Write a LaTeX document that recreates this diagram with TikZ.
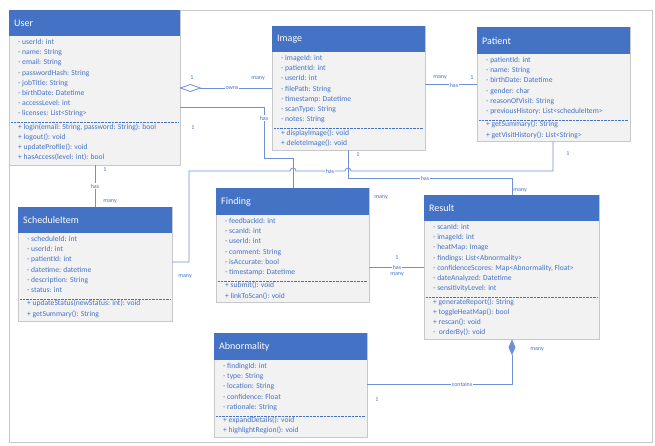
\documentclass[tikz,border=0pt]{standalone}
\usepackage{fontspec}
\setmainfont{Carlito}
\usetikzlibrary{positioning}
\definecolor{hdrblue}{HTML}{4472C4}
\definecolor{bodygray}{HTML}{F2F2F2}
\definecolor{edgegray}{HTML}{C8C8C8}
\definecolor{linkblue}{HTML}{6F8FD6}
\def\mylinesep{10.2pt}
\tikzset{
x=1pt, y=-1pt,
box/.style={draw=edgegray,fill=bodygray,rectangle,inner sep=0pt,anchor=north west},
hdr/.style={fill=hdrblue,rectangle,inner sep=0pt,anchor=north west},
title/.style={text=white,font=\fontsize{10}{12}\selectfont,anchor=west,inner sep=0pt},
members/.style={text=hdrblue,font=\fontsize{7.6}{\mylinesep}\selectfont,align=left,anchor=north west,inner sep=0pt},
sep/.style={draw=hdrblue,densely dotted,thin},
link/.style={draw=linkblue,thick},
lbl/.style={text=hdrblue,font=\fontsize{6}{7}\selectfont,inner sep=0.5pt},
onln/.style={lbl,fill=white},
}
% id, x, y, width, height, header height, title, attributes, number of attributes, operations
\newcommand\umlclass[9]{%
  \node[box,minimum width=#4,minimum height=#5] (#1) at (#2,#3) {};
  \node[hdr,minimum width=#4,minimum height=#6] (#1-h) at (#2,#3) {};
  \node[title] at ([xshift=5pt]#1-h.west) {#7};
  \node[members] (#1-a) at (#2+9,#3+#6+3) {#8};
  \draw[sep] (#2+2,#3+#6+5+#9*10.2) -- (#2+#4-2,#3+#6+5+#9*10.2);
  \node[members] (#1-o) at (#2+9,#3+#6+6+#9*10.2) {\umlops};
}
\begin{document}
\begin{tikzpicture}
\useasboundingbox (0,0) rectangle (655,446);
\draw[edgegray] (9,10) rectangle (652,442);

\def\umlops{+ login(email: String, password: String): bool\\+ logout(): void\\+ updateProfile(): void\\+ hasAccess(level: int): bool}
\umlclass{user}{9}{10}{171}{155}{26}{User}{- userId: int\\- name: String\\- email: String\\- passwordHash: String\\- jobTitle: String\\- birthDate: Datetime\\- accessLevel: int\\- licenses: List<String>}{8}

\def\umlops{+ displayImage(): void\\+ deleteImage(): void}
\umlclass{image}{272}{26}{153}{124}{26}{Image}{- imageId: int\\- patientId: int\\- userId: int\\- filePath: String\\- timestamp: Datetime\\- scanType: String\\- notes: String}{7}

\def\umlops{+ getSummary(): String\\+ getVisitHistory(): List<String>}
\umlclass{patient}{477}{27}{153}{114}{27}{Patient}{- patientId: int\\- name: String\\- birthDate: Datetime\\- gender: char\\- reasonOfVisit: String\\- previousHistory: List<scheduleItem>}{6}

\def\umlops{+ updateStatus(newStatus: int): void\\+ getSummary(): String}
\umlclass{sched}{18}{207}{154}{114}{26}{ScheduleItem}{- scheduleId: int\\- userId: int\\- patientId: int\\- datetime: datetime\\- description: String\\- status: int}{6}

\def\umlops{+ submit(): void\\+ linkToScan(): void}
\umlclass{finding}{216}{188}{153}{114}{27}{Finding}{- feedbackId: int\\- scanId: int\\- userId: int\\- comment: String\\- isAccurate: bool\\- timestamp: Datetime}{6}

\def\umlops{+ generateReport(): String\\+ toggleHeatMap(): bool\\+ rescan(): void\\-\ \ orderBy(): void}
\umlclass{result}{424}{195}{175}{144}{26}{Result}{- scanId: int\\- imageId: int\\- heatMap: Image\\- findings: List<Abnormality>\\- confidenceScores: Map<Abnormality, Float>\\- dateAnalyzed: Datetime\\- sensitivityLevel: int}{7}

\def\umlops{+ expandDetails(): void\\+ highlightRegion(): void}
\umlclass{abnorm}{214}{333}{153}{104}{27}{Abnormality}{- findingId: int\\- type: String\\- location: String\\- confidence: Float\\- rationale: String}{5}

% User owns Image
\draw[link] (user.east |- 0,88) -- ++(10,-3.5) -- ++(10,3.5) -- ++(-10,3.5) -- cycle;
\draw[link] (user.east |- 0,88) ++(20,0) -- (image.west |- 0,88);
\node[onln] at (232,88) {owns};
\node[lbl] at (192,78) {1};
\node[lbl] at (258,79) {many};

% Image has Patient
\draw[link] (image.east |- 0,84) -- (patient.west |- 0,84);
\node[lbl] at (440,78) {many};
\node[onln] at (454,85) {has};
\node[lbl] at (472,78) {1};

% User has Finding
\draw[link] (user.east |- 0,107) -- (264,107) -- (264,158) -- (293,158) -- (finding.north -| 293,0);
\node[onln] at (264,118) {has};
\node[lbl] at (193,128) {1};
\node[lbl] at (381,198) {many};

% User has ScheduleItem
\draw[link] (user.south -| 95,0) -- (sched.north -| 95,0);
\node[lbl] at (105,170) {1};
\node[onln] at (95,186) {has};
\node[lbl] at (110,202) {many};

% ScheduleItem has Patient
\draw[link] (sched.east |- 0,262) -- (189,262) -- (189,171) -- (290,171)
  arc[start angle=180,end angle=360,radius=3] -- (345,171)
  arc[start angle=180,end angle=360,radius=3] -- (553,171) -- (patient.south -| 553,0);
\node[onln] at (330,171) {has};
\node[lbl] at (185,277) {many};
\node[lbl] at (568,154) {1};

% Image has Result
\draw[link] (image.south -| 348,0) -- (348,178) -- (512,178) -- (result.north -| 512,0);
\node[onln] at (425,178) {has};
\node[lbl] at (358,155) {1};
\node[lbl] at (520,191) {many};

% Finding has Result
\draw[link] (finding.east |- 0,267) -- (result.west |- 0,267);
\node[lbl] at (397,258) {1};
\node[onln] at (397,267) {has};
\node[lbl] at (397,275) {many};

% Result contains Abnormality
\fill[linkblue] (result.south -| 512,0) -- ++(-3.5,8) -- ++(3.5,8) -- ++(3.5,-8) -- cycle;
\draw[link] (512,355) -- (512,384) -- (abnorm.east |- 0,384);
\node[onln] at (462,384) {contains};
\node[lbl] at (537,350) {many};
\node[lbl] at (377,400) {1};
\end{tikzpicture}
\end{document}
